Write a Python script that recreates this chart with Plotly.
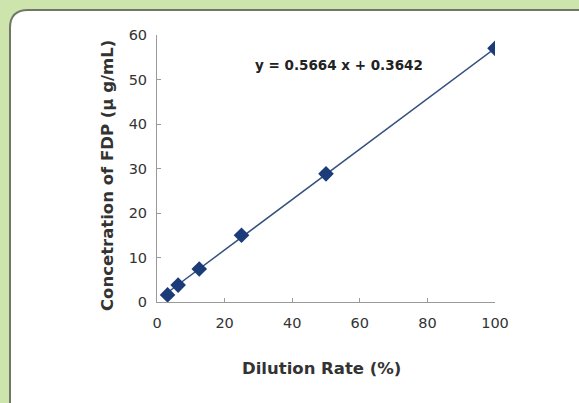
import plotly.graph_objects as go

dilution = [3.125, 6.25, 12.5, 25, 50, 100]
conc = [1.6, 3.8, 7.4, 15.0, 28.8, 57.0]
x_ticks = [0, 20, 40, 60, 80, 100]
y_ticks = [0, 10, 20, 30, 40, 50, 60]
slope, intercept = 0.5664, 0.3642
equation = "y = 0.5664 x + 0.3642"

W, H = 579, 403
L, R, T, B = 157, 84, 35, 101
pw, ph = W - L - R, H - T - B

def px(X):
    return (X - L) / pw

def py(Y):
    return (H - B - Y) / ph

fig = go.Figure()
fig.add_trace(go.Scatter(
    x=[dilution[0], dilution[-1]],
    y=[slope * dilution[0] + intercept, slope * dilution[-1] + intercept],
    mode="lines", line=dict(color="#35527f", width=1.5), hoverinfo="skip"))
fig.add_trace(go.Scatter(
    x=dilution, y=conc, mode="markers",
    marker=dict(symbol="diamond", size=12, color="#1b3c78")))

# green frame band along top and left, white panel elsewhere (kept inside the canvas)
r = 18
gx0, gx1 = px(0), px(W)
gy0, gy1 = py(H), py(0)
ex, ey = px(10), py(10)
rx, ry = r / pw, r / ph
green = (f"M {gx0},{gy1} L {gx1},{gy1} L {gx1},{ey} L {ex+rx},{ey} "
         f"Q {ex},{ey} {ex},{ey-ry} L {ex},{gy0} L {gx0},{gy0} Z")
fig.add_shape(type="path", path=green, xref="paper", yref="paper",
              fillcolor="#cde4ad", line=dict(width=0), layer="below")
border = (f"M {gx1},{ey} L {ex+rx},{ey} Q {ex},{ey} {ex},{ey-ry} L {ex},{gy0}")
fig.add_shape(type="path", path=border, xref="paper", yref="paper",
              line=dict(color="#6f7868", width=2), layer="below")

font = "DejaVu Sans, sans-serif"
fig.add_annotation(x=px(339), y=py(65), xref="paper", yref="paper", text=f"<b>{equation}</b>",
                   xanchor="center", yanchor="middle",
                   showarrow=False, font=dict(family=font, size=13.5, color="#222"))
fig.add_annotation(x=px(321), y=py(368), xref="paper", yref="paper", text="<b>Dilution Rate (%)</b>",
                   xanchor="center", yanchor="middle",
                   showarrow=False, font=dict(family=font, size=16.5, color="#333"))
fig.add_annotation(x=px(107), y=py(176), xref="paper", yref="paper",
                   text="<b>Concetration of FDP (μ g/mL)</b>", textangle=-90,
                   xanchor="center", yanchor="middle",
                   showarrow=False, font=dict(family=font, size=16.5, color="#333"))

axis_common = dict(showgrid=False, zeroline=False, showline=True, linecolor="#9a9a9a",
                   linewidth=1, ticks="inside", ticklen=4, tickcolor="#9a9a9a",
                   tickfont=dict(family=font, size=14.5, color="#333"))
fig.update_xaxes(range=[0, 100], tickvals=x_ticks, ticklabelstandoff=8, **axis_common)
fig.update_yaxes(range=[0, 60], tickvals=y_ticks, ticklabelstandoff=6, **axis_common)

fig.update_layout(width=W, height=H, margin=dict(l=L, r=R, t=T, b=B),
                  paper_bgcolor="#ffffff", plot_bgcolor="rgba(0,0,0,0)",
                  showlegend=False)
fig.write_html("out.html", config={"displayModeBar": False},
               post_script="document.body.style.margin='0';document.body.style.overflow='hidden';")
